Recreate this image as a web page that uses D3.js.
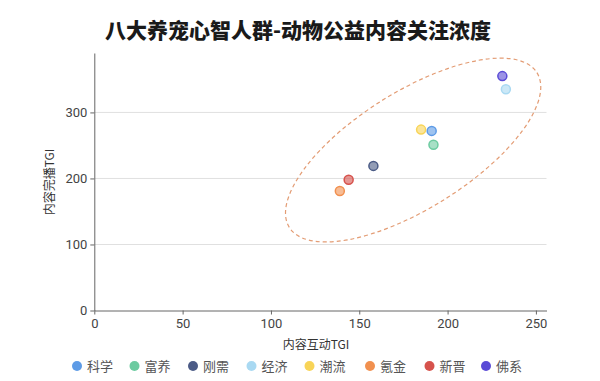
<!DOCTYPE html>
<html><head><meta charset="utf-8">
<script src="https://cdn.jsdelivr.net/npm/d3@7/dist/d3.min.js"></script>
<style>
html,body{margin:0;padding:0;background:#fff;}
svg{display:block;font-family:"Noto Sans CJK SC","Noto Sans",sans-serif;}
</style></head>
<body><svg id="chart" width="600" height="381"></svg>
<script>
const title = "八大养宠心智人群-动物公益内容关注浓度";
const xLabel = "内容互动TGI";
const yLabel = "内容完播TGI";
const categories = ["科学","富养","刚需","经济","潮流","氪金","新晋","佛系"];
const colors = ["#5d9be6","#6ccba0","#4b5b86","#a9d9f2","#f8d457","#f1904f","#d6524c","#5a4bd6"];
const xValues = [191, 192, 158, 233, 185, 139, 144, 231];
const yValues = [272, 251, 219, 335, 274, 181, 198, 355];
const xTicks = [0, 50, 100, 150, 200, 250];
const yTicks = [0, 100, 200, 300];
// annotation ellipse (center in data units)
const ellipseCenter = [180.5, 243];

const svg = d3.select("#chart");
const x = d3.scaleLinear().domain([0, 256]).range([94.3, 546.5]);
const y = d3.scaleLinear().domain([0, 390]).range([310.5, 53]);

svg.append("text").attr("x", 298).attr("y", 38).attr("text-anchor", "middle")
  .attr("font-size", 21).attr("font-weight", 900).attr("fill", "#1a1a1a").text(title);

// gridlines
svg.append("g").selectAll("line").data(yTicks.filter(d => d > 0)).join("line")
  .attr("x1", x(0)).attr("x2", x(256)).attr("y1", d => y(d)).attr("y2", d => y(d))
  .attr("stroke", "#e0e0e0").attr("stroke-width", 1);

const xAxis = svg.append("g").attr("transform", `translate(0,${y(0)})`)
  .call(d3.axisBottom(x).tickValues(xTicks).tickSize(4).tickPadding(4).tickSizeOuter(0));
const yAxis = svg.append("g").attr("transform", `translate(${x(0)},0)`)
  .call(d3.axisLeft(y).tickValues(yTicks).tickSize(4).tickPadding(3).tickSizeOuter(0));
[xAxis, yAxis].forEach(g => {
  g.select(".domain").attr("stroke", "#666");
  g.selectAll(".tick line").attr("stroke", "#666");
  g.selectAll(".tick text").attr("font-size", 13).attr("fill", "#444")
    .attr("font-family", "Roboto, 'Noto Sans', sans-serif");
});

svg.append("text").attr("x", 316).attr("y", 349).attr("text-anchor", "middle")
  .attr("font-size", 12).attr("fill", "#333").text(xLabel);
svg.append("text").attr("transform", "translate(54,182) rotate(-90)").attr("text-anchor", "middle")
  .attr("font-size", 12).attr("fill", "#333").text(yLabel);

// ellipse
svg.append("ellipse")
  .attr("cx", 0).attr("cy", 0).attr("rx", 146).attr("ry", 58.5)
  .attr("transform", `translate(${x(ellipseCenter[0])},${y(ellipseCenter[1])}) rotate(-32)`)
  .attr("fill", "none").attr("stroke", "#e39c74").attr("stroke-width", 1.2)
  .attr("stroke-dasharray", "4,3");

// points
const pts = categories.map((c, i) => ({c, x: xValues[i], y: yValues[i], col: colors[i]}));
svg.append("g").selectAll("circle").data(pts).join("circle")
  .attr("cx", d => x(d.x)).attr("cy", d => y(d.y)).attr("r", 4.5)
  .attr("fill", d => d.col).attr("fill-opacity", 0.6)
  .attr("stroke", d => d.col).attr("stroke-width", 1.5);

// legend
const legendX = [77, 134.5, 193, 251.5, 309.5, 370, 429.5, 486];
const lg = svg.append("g").selectAll("g").data(pts).join("g")
  .attr("transform", (d, i) => `translate(${legendX[i]},366)`);
lg.append("circle").attr("r", 5).attr("fill", d => d.col);
lg.append("text").attr("x", 10).attr("y", 4.5).attr("font-size", 13).attr("fill", "#555").text(d => d.c);
</script></body></html>
